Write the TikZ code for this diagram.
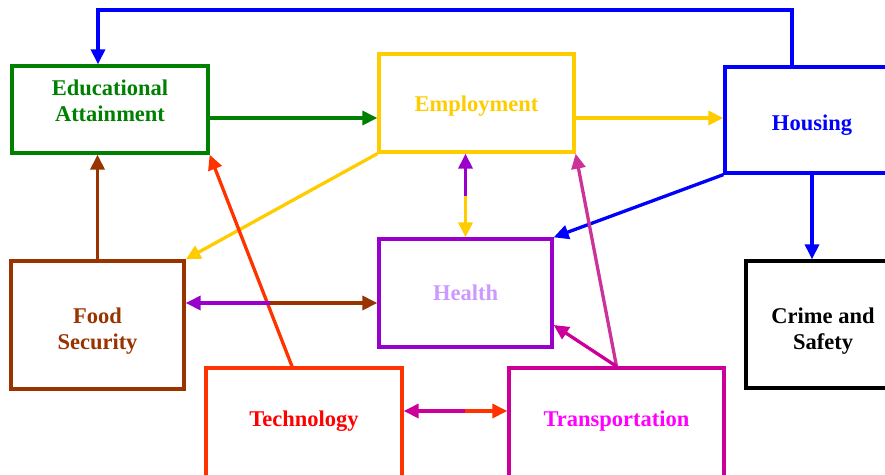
\documentclass[tikz,border=0pt]{standalone}
\usepackage{fontspec}
\setmainfont{Liberation Serif}
\usetikzlibrary{arrows.meta,calc}

\definecolor{edugreen}{RGB}{0,128,0}
\definecolor{empgold}{RGB}{255,204,0}
\definecolor{housblue}{RGB}{0,0,255}
\definecolor{foodbrown}{RGB}{153,51,0}
\definecolor{hlthpurple}{RGB}{153,0,204}
\definecolor{hlthtext}{RGB}{204,153,255}
\definecolor{techred}{RGB}{255,51,0}
\definecolor{techtext}{RGB}{255,0,0}
\definecolor{transmag}{RGB}{204,0,153}
\definecolor{transtext}{RGB}{255,0,255}
\definecolor{transpink}{RGB}{204,51,153}

% move a label up or down inside its box
\newcommand{\boxtext}[2]{\raisebox{#1}[\height][\depth]{\begin{tabular}{@{}c@{}}#2\end{tabular}}}

\tikzset{
  factor/.style={draw, line width=3.3pt, rectangle, inner sep=0pt, align=center,
    font=\fontsize{22.5}{26}\selectfont\bfseries},
  link/.style={line width=3.3pt, -{Triangle[length=15pt,width=14pt]}}
}

\begin{document}
\begin{tikzpicture}[x=1pt,y=-1pt]
\useasboundingbox (0,0) rectangle (885,474);
\clip (0,0) rectangle (885,474);

% the eight factors
\node[factor, draw=edugreen, text=edugreen, minimum width=196pt, minimum height=87pt] (edu) at (110,109.5) {\boxtext{6pt}{Educational\\Attainment}};
\node[factor, draw=empgold, text=empgold, minimum width=195pt, minimum height=98pt] (emp) at (476.5,103) {\boxtext{-3pt}{Employment}};
\node[factor, draw=housblue, text=housblue, minimum width=174pt, minimum height=106pt] (hous) at (812,120) {\boxtext{-5pt}{Housing}};
\node[factor, draw=foodbrown, text=foodbrown, minimum width=173pt, minimum height=128pt] (food) at (97.5,325) {\boxtext{-6pt}{Food\\Security}};
\node[factor, draw=hlthpurple, text=hlthtext, minimum width=173pt, minimum height=108pt] (hlth) at (465.5,293) {\boxtext{-2pt}{Health}};
\node[factor, draw=black, text=black, minimum width=154pt, minimum height=127pt] (crime) at (823,324.5) {\boxtext{-7pt}{Crime and\\Safety}};
\node[factor, draw=techred, text=techtext, minimum width=196pt, minimum height=112pt] (tech) at (304,424) {\boxtext{3pt}{Technology}};
\node[factor, draw=transmag, text=transtext, minimum width=215pt, minimum height=112pt] (trans) at (616.5,424) {\boxtext{3pt}{Transportation}};

% housing loops back over the top
\coordinate (top) at (400,10);
\draw[link, housblue] ([xshift=-20pt]hous.north) |- (top) -| ([xshift=-12pt]edu.north);

\draw[link, edugreen] ([yshift=-8.5pt]edu.east) -- ([yshift=-15pt]emp.west);
\draw[link, empgold] ([yshift=-15pt]emp.east) -- ([yshift=2pt]hous.west);
\draw[link, housblue] (hous.south west) -- (hlth.north east);
\draw[link, housblue] (hous.south) -- (hous.south |- crime.north);
\draw[link, empgold] (emp.south west) -- (food.north east);
\draw[link, foodbrown] (food.north) -- (food.north |- edu.south);
\draw[link, techred] ([xshift=-12pt]tech.north) -- (edu.south east);
\draw[link, transpink] (trans.north) -- (emp.south east);
\draw[link, transmag] (trans.north) -- ([yshift=-32pt]hlth.east);

% two-way links, one colour per half
\coordinate (eh) at ($(hlth.north)!0.5!(hlth.north |- emp.south)$);
\draw[link, hlthpurple] (eh) -- (hlth.north |- emp.south);
\draw[link, empgold] (eh) -- (hlth.north);

\coordinate (fh) at ($([yshift=-10pt]hlth.west -| food.east)!0.44!([yshift=-10pt]hlth.west)$);
\draw[link, hlthpurple] (fh) -- ([yshift=-10pt]hlth.west -| food.east);
\draw[link, foodbrown] (fh) -- ([yshift=-10pt]hlth.west);

\coordinate (tt) at ($([yshift=13pt]tech.east)!0.59!([yshift=13pt]trans.west)$);
\draw[link, transmag] (tt) -- ([yshift=13pt]tech.east);
\draw[link, techred] (tt) -- ([yshift=13pt]trans.west);
\end{tikzpicture}
\end{document}
